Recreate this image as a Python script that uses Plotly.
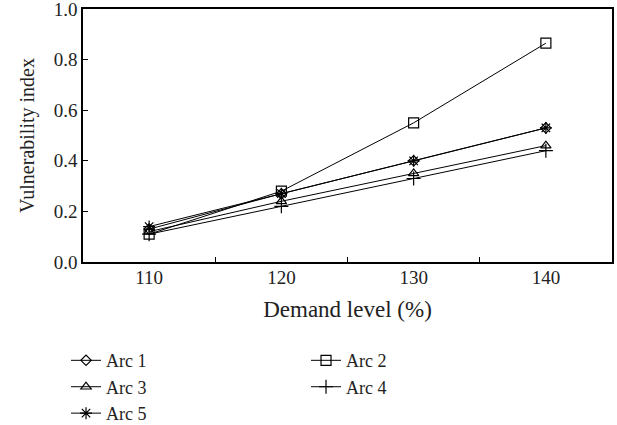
import plotly.graph_objects as go

demand = [110, 120, 130, 140]
arc1 = [0.13, 0.27, 0.40, 0.53]
arc2 = [0.11, 0.28, 0.55, 0.865]
arc3 = [0.12, 0.24, 0.35, 0.46]
arc4 = [0.11, 0.22, 0.33, 0.44]
arc5 = [0.14, 0.27, 0.40, 0.53]
names = ["Arc 1", "Arc 2", "Arc 3", "Arc 4", "Arc 5"]
series = [arc1, arc2, arc3, arc4, arc5]
symbols = ["diamond-open", "square-open", "triangle-up-open", "cross-thin-open", "asterisk-open"]
sizes = [8, 10, 9, 10, 10]

FONT = "Liberation Serif"
INK = "#222"
fig = go.Figure()
for n, s, sym, sz in zip(names, series, symbols, sizes):
    fig.add_trace(go.Scatter(
        x=demand, y=s, name=n, mode="lines+markers",
        line=dict(color="black", width=1),
        marker=dict(symbol=sym, size=sz, color="black", line=dict(color="black", width=1.2)),
    ))

fig.update_layout(
    width=617, height=425,
    margin=dict(l=83, r=5, t=9, b=163),
    paper_bgcolor="white", plot_bgcolor="white",
    font=dict(family=FONT, size=19, color=INK),
    showlegend=True,
    legend=dict(orientation="h", xref="container", yref="container",
                x=0.107, xanchor="left", y=0.195, yanchor="top",
                entrywidth=195, entrywidthmode="pixels",
                font=dict(family=FONT, size=18, color=INK),
                itemwidth=30, tracegroupgap=0),
    xaxis=dict(range=[105, 145], tickvals=demand, ticktext=[str(d) for d in demand],
               ticks="", showgrid=False, zeroline=False, automargin=False,
               ticklabeloverflow="allow", ticklabelstandoff=-3,
               showline=True, linecolor="black", linewidth=1.5, mirror=True,
               minor=dict(tickvals=[115, 125, 135], ticks="inside", ticklen=5, tickcolor="black"),
               title=dict(text="Demand level (%)", standoff=14,
                          font=dict(family=FONT, size=23, color=INK)),
               tickfont=dict(family=FONT, size=19, color=INK)),
    yaxis=dict(range=[0, 1.0001], tickvals=[0, 0.2, 0.4, 0.6, 0.8, 1.0],
               ticktext=["0.0", "0.2", "0.4", "0.6", "0.8", "1.0"],
               ticks="inside", ticklen=5, tickcolor="black",
               showgrid=False, zeroline=False, automargin=False,
               ticklabeloverflow="allow",
               showline=True, linecolor="black", linewidth=1.5, mirror=True,
               title=dict(text="Vulnerability index", standoff=14,
                          font=dict(family=FONT, size=20, color=INK)),
               tickfont=dict(family=FONT, size=19, color=INK)),
)
fig.write_html("out.html", config={"displayModeBar": False},
               post_script="document.body.style.margin='0';document.body.style.padding='0';")
